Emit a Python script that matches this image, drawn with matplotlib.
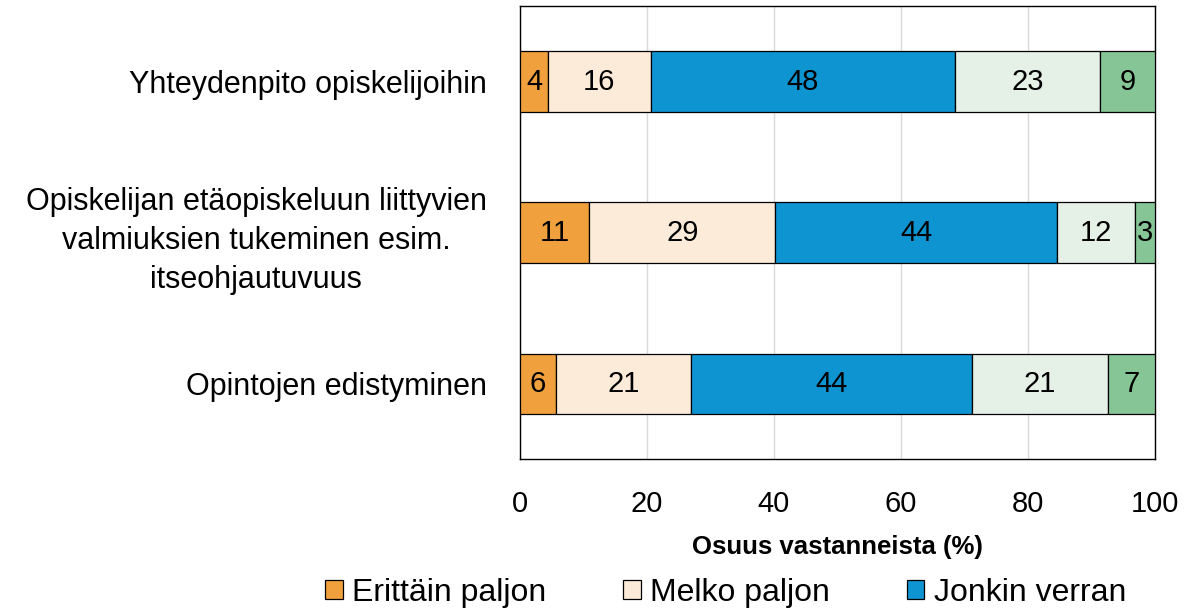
import numpy as np
import matplotlib
matplotlib.use("Agg")
import matplotlib.pyplot as plt
from matplotlib.patches import Patch

categories = [
    "Yhteydenpito opiskelijoihin",
    "Opiskelijan etäopiskeluun liittyvien\nvalmiuksien tukeminen esim.\nitseohjautuvuus",
    "Opintojen edistyminen",
]
series = ["Erittäin paljon", "Melko paljon", "Jonkin verran", "Melko vähän", "Ei lainkaan"]
erittain = [4.4, 10.9, 5.7]
melko = [16.2, 29.3, 21.2]
jonkin = [47.9, 44.4, 44.3]
vahan = [22.8, 12.3, 21.4]
ei = [8.7, 3.1, 7.4]
colors = ["#F0A03C", "#FDEBD9", "#0F94D2", "#E5F0E6", "#86C596"]
xticks = [0, 20, 40, 60, 80, 100]

FONT = ["Liberation Sans", "DejaVu Sans"]

fig = plt.figure(figsize=(11.85, 6.1), dpi=100)
ax = fig.add_axes([0.4388, 0.247, 0.5359, 0.743])

y = np.arange(len(categories))
left = np.zeros(len(categories))
for name, vals, col in zip(series, [erittain, melko, jonkin, vahan, ei], colors):
    vals = np.array(vals)
    ax.barh(y, vals, left=left, height=0.4, color=col, edgecolor="black", lw=0.9, zorder=3)
    for yi, l, v in zip(y, left, vals):
        ax.text(l + v / 2, yi, f"{round(v):d}", ha="center", va="center",
                fontsize=21, family=FONT, zorder=4)
    left += vals

ax.set_xlim(0, 100)
ax.set_ylim(len(categories) - 0.5, -0.5)
ax.set_xticks(xticks)
ax.set_xticklabels([str(t) for t in xticks], family=FONT, fontsize=21)
ax.set_yticks(y)
ax.set_yticklabels(categories, family=FONT, fontsize=22, linespacing=1.4)
for lab in ax.get_yticklabels():
    lab.set_multialignment("center")
ax.tick_params(axis="both", length=0)
ax.tick_params(axis="x", pad=22)
ax.tick_params(axis="y", pad=24)
ax.grid(axis="x", color="#D9D9D9", lw=1, zorder=0)
for s in ax.spines.values():
    s.set_color("black")
    s.set_linewidth(1)
ax.set_xlabel("Osuus vastanneista (%)", family=FONT, fontsize=18.5,
              fontweight="bold", labelpad=12)

handles = [Patch(facecolor=c, edgecolor="black", lw=0.9) for c in colors[:3]]
fig.legend(handles, series[:3], loc="center left", bbox_to_anchor=(0.25, 0.028),
           ncol=3, frameon=False, prop={"family": FONT, "size": 23},
           handlelength=0.55, handleheight=0.55, handletextpad=0.3, columnspacing=2.4)

fig.savefig("out.png", dpi=100)
